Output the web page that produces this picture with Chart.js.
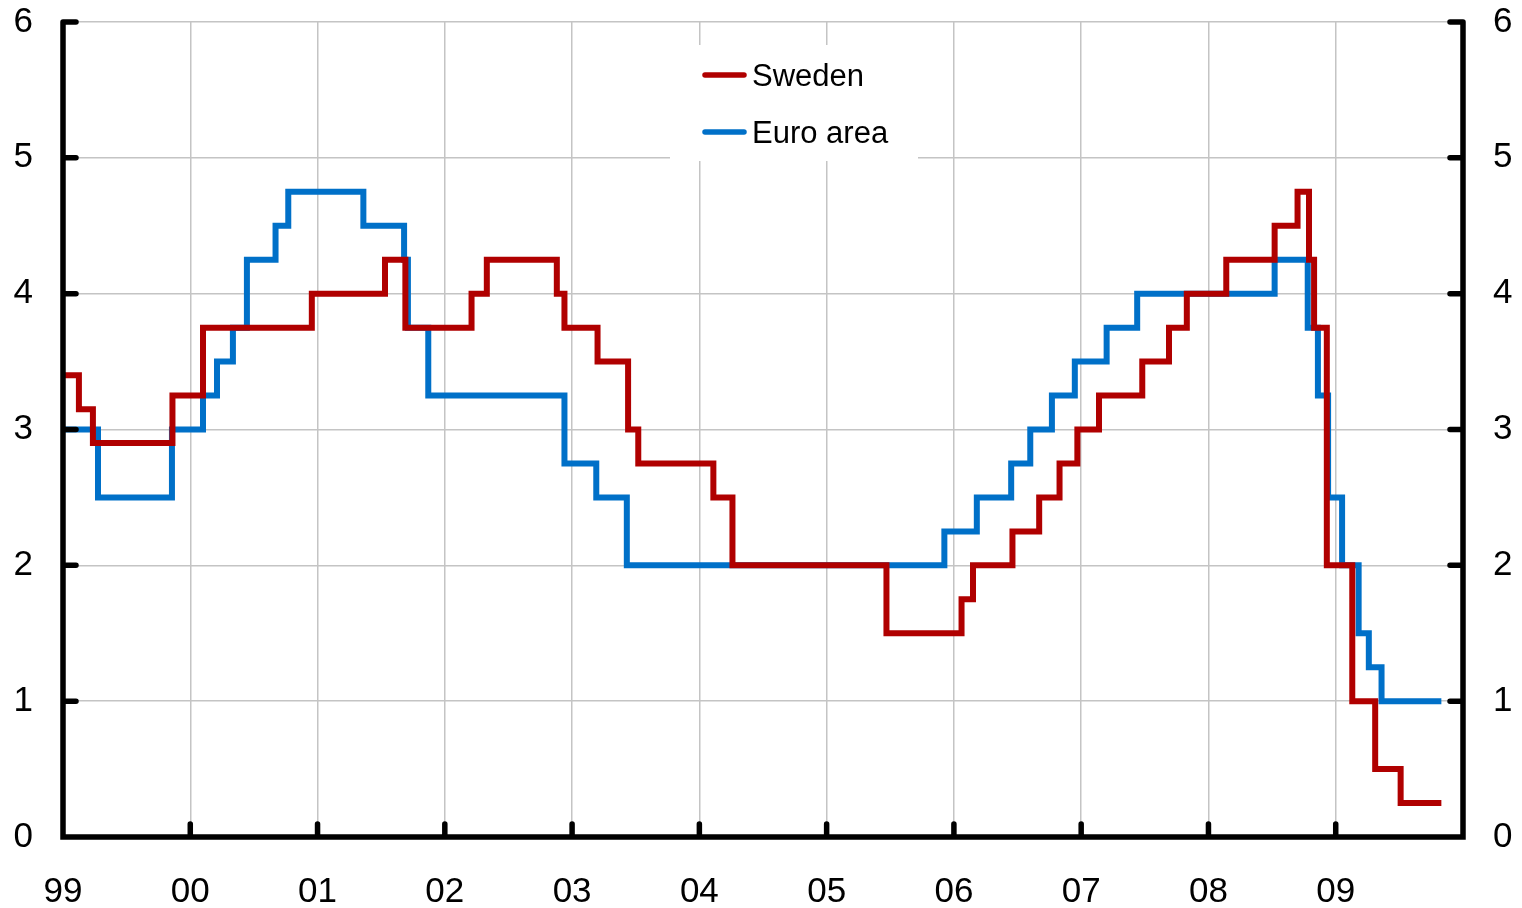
<!DOCTYPE html>
<html>
<head>
<meta charset="utf-8">
<script src="https://cdn.jsdelivr.net/npm/chart.js@4/dist/chart.umd.min.js"></script>
<style>
  body { margin: 0; background: #fff; }
  #wrap { width: 1522px; height: 908px; }
</style>
</head>
<body>
<div id="wrap"><canvas id="ratesChart" width="1522" height="908"></canvas></div>
<script>
// Policy rates, change dates as decimal years
const sweDates = [1999.00, 1999.125, 1999.235, 1999.86, 2000.10, 2000.955, 2001.53, 2001.69, 2002.21, 2002.33,
  2002.88, 2002.94, 2003.20, 2003.44, 2003.52, 2004.11, 2004.26, 2005.47, 2006.06, 2006.15,
  2006.46, 2006.67, 2006.83, 2006.97, 2007.14, 2007.48, 2007.69, 2007.83, 2008.14, 2008.52,
  2008.70, 2008.79, 2008.83, 2008.93, 2009.13, 2009.31, 2009.51, 2009.83];
const sweRates = [3.40, 3.15, 2.90, 3.25, 3.75, 4.00, 4.25, 3.75, 4.00, 4.25,
  4.00, 3.75, 3.50, 3.00, 2.75, 2.50, 2.00, 1.50, 1.75, 2.00,
  2.25, 2.50, 2.75, 3.00, 3.25, 3.50, 3.75, 4.00, 4.25, 4.50,
  4.75, 4.25, 3.75, 2.00, 1.00, 0.50, 0.25, 0.25];

const euroDates = [1999.00, 1999.275, 1999.856, 2000.10, 2000.21, 2000.335, 2000.445, 2000.67, 2000.77, 2001.36,
  2001.68, 2001.71, 2001.87, 2002.94, 2003.19, 2003.43, 2005.925, 2006.18, 2006.45, 2006.60,
  2006.77, 2006.95, 2007.20, 2007.44, 2008.52, 2008.78, 2008.86, 2008.94, 2009.05, 2009.18,
  2009.26, 2009.36, 2009.83];
const euroRates = [3.00, 2.50, 3.00, 3.25, 3.50, 3.75, 4.25, 4.50, 4.75, 4.50,
  4.25, 3.75, 3.25, 2.75, 2.50, 2.00, 2.25, 2.50, 2.75, 3.00,
  3.25, 3.50, 3.75, 4.00, 4.25, 3.75, 3.25, 2.50, 2.00, 1.50,
  1.25, 1.00, 1.00];

const yearLabels = ['99', '00', '01', '02', '03', '04', '05', '06', '07', '08', '09'];
const seriesNames = ['Sweden', 'Euro area'];

const RED = '#b00000';
const BLUE = '#0070c8';
const FONT = '"Liberation Sans", Arial, sans-serif';

// black frame with inward tick marks
const axesPlugin = {
  id: 'axesFrame',
  afterDatasetsDraw(chart) {
    const { ctx, chartArea: a, scales } = chart;
    ctx.save();
    ctx.strokeStyle = '#000';
    ctx.lineWidth = 5.5;
    ctx.lineCap = 'round';
    ctx.beginPath();
    ctx.moveTo(a.left, a.top);
    ctx.lineTo(a.left, a.bottom);
    ctx.lineTo(a.right, a.bottom);
    ctx.lineTo(a.right, a.top);
    for (let v = 0; v <= 6; v++) {
      const y = scales.y.getPixelForValue(v);
      ctx.moveTo(a.left, y); ctx.lineTo(a.left + 13, y);
      ctx.moveTo(a.right, y); ctx.lineTo(a.right - 13, y);
    }
    for (let yr = 2000; yr <= 2009; yr++) {
      const x = scales.x.getPixelForValue(yr);
      ctx.moveTo(x, a.bottom); ctx.lineTo(x, a.bottom - 13);
    }
    ctx.stroke();
    ctx.restore();
  }
};

// legend box sitting on top of the grid
const legendPlugin = {
  id: 'boxLegend',
  afterDraw(chart) {
    const ctx = chart.ctx;
    ctx.save();
    ctx.fillStyle = '#fff';
    ctx.fillRect(670, 45, 248, 116);
    ctx.font = '31px ' + FONT;
    ctx.textBaseline = 'middle';
    chart.data.datasets.forEach((ds, i) => {
      const y = 75 + i * 57;
      ctx.strokeStyle = ds.borderColor;
      ctx.lineWidth = 5.5;
      ctx.lineCap = 'round';
      ctx.beginPath();
      ctx.moveTo(705, y);
      ctx.lineTo(744, y);
      ctx.stroke();
      ctx.fillStyle = '#000';
      ctx.fillText(ds.label, 752, y + 2);
    });
    ctx.restore();
  }
};

function toPoints(dates, rates) {
  return dates.map((d, i) => ({ x: d, y: rates[i] }));
}

const rateTicks = {
  stepSize: 1,
  padding: 30,
  color: '#000',
  font: { family: FONT, size: 35 }
};

// fixed side widths, no extra label padding above the plot
function fixSide(width) {
  return s => { s.width = width; s.paddingTop = 0; s.paddingBottom = 0; };
}

new Chart(document.getElementById('ratesChart'), {
  type: 'line',
  data: {
    datasets: [
      {
        label: seriesNames[0],
        data: toPoints(sweDates, sweRates),
        borderColor: RED,
        borderWidth: 6,
        stepped: 'before',
        pointRadius: 0,
        fill: false,
        borderJoinStyle: 'miter'
      },
      {
        label: seriesNames[1],
        data: toPoints(euroDates, euroRates),
        borderColor: BLUE,
        borderWidth: 6,
        stepped: 'before',
        pointRadius: 0,
        fill: false,
        borderJoinStyle: 'miter'
      }
    ]
  },
  options: {
    responsive: false,
    animation: false,
    layout: { padding: { top: 22, left: 0, right: 0, bottom: 0 } },
    scales: {
      x: {
        type: 'linear',
        min: 1999,
        max: 2010,
        ticks: {
          stepSize: 1,
          autoSkip: false,
          maxRotation: 0,
          padding: 34,
          color: '#000',
          font: { family: FONT, size: 35 },
          callback: v => yearLabels[v - 1999] || ''
        },
        grid: { color: '#c4c4c4', lineWidth: 1.5, drawTicks: false },
        border: { display: false },
        afterFit: s => { s.height = 71; s.paddingLeft = 0; s.paddingRight = 0; }
      },
      y: {
        position: 'left',
        min: 0,
        max: 6,
        ticks: rateTicks,
        grid: { color: '#c4c4c4', lineWidth: 1.5, drawTicks: false },
        border: { display: false },
        afterFit: fixSide(63)
      },
      y2: {
        position: 'right',
        min: 0,
        max: 6,
        ticks: rateTicks,
        grid: { display: false, drawTicks: false },
        border: { display: false },
        afterFit: fixSide(59)
      }
    },
    plugins: {
      legend: { display: false },
      tooltip: { enabled: false }
    }
  },
  plugins: [axesPlugin, legendPlugin]
});
</script>
</body>
</html>
